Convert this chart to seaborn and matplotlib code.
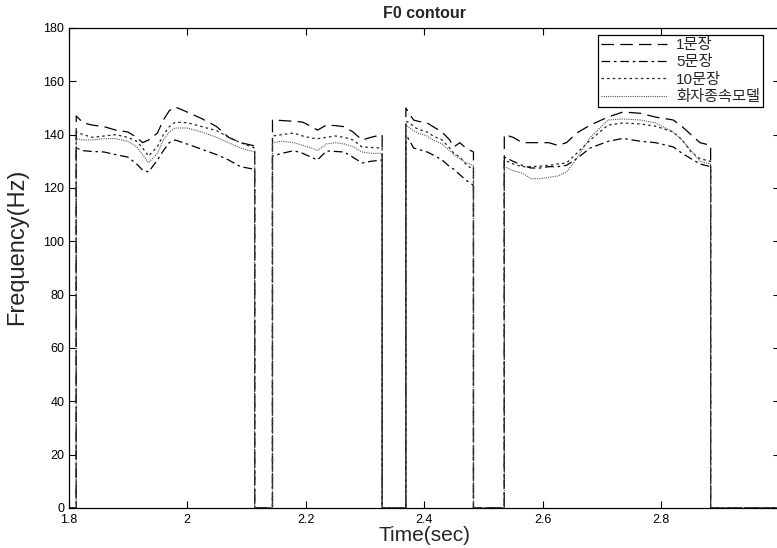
import numpy as np
import pandas as pd
import matplotlib
matplotlib.use("Agg")
import matplotlib.pyplot as plt
import seaborn as sns

# ---------------- data ----------------
seg_times = [
    [1.813, 1.825, 1.84, 1.86, 1.88, 1.90, 1.915, 1.925, 1.935, 1.95, 1.96, 1.97, 1.98, 2.00, 2.025, 2.05, 2.07, 2.09, 2.114],
    [2.144, 2.16, 2.18, 2.195, 2.21, 2.22, 2.235, 2.25, 2.265, 2.28, 2.295, 2.31, 2.329],
    [2.369, 2.376, 2.382, 2.39, 2.405, 2.415, 2.43, 2.443, 2.45, 2.46, 2.47, 2.483],
    [2.535, 2.55, 2.565, 2.58, 2.595, 2.61, 2.625, 2.64, 2.657, 2.68, 2.71, 2.735, 2.765, 2.79, 2.82, 2.835, 2.85, 2.865, 2.883],
]

f0_1sent = [
    [147, 144.4, 143.6, 143, 141.7, 141, 139, 137, 138, 140.6, 145.5, 149, 150.4, 148.5, 146, 143, 139, 137, 135.8],
    [145.5, 145.3, 145, 144.7, 143, 141.7, 143.6, 143.4, 143, 141, 138, 139, 140],
    [150, 147.5, 145.5, 145, 144.4, 143, 141, 138, 135.4, 137, 135, 133.5],
    [140, 139, 137, 137, 137, 137, 136, 137, 140.6, 143.6, 146.6, 148.5, 148, 146.6, 145.5, 143, 140, 137, 136],
]
f0_5sent = [
    [135, 134, 133.7, 133.5, 132.5, 131.6, 129, 126.7, 126, 130.5, 134, 137, 138, 136.5, 134.5, 132.5, 130.5, 128, 127],
    [132, 133, 134, 133, 131.5, 130.5, 133.9, 133.7, 133.5, 131.5, 129.4, 130, 130.5],
    [140, 137.5, 135, 134.5, 133.5, 132.4, 130.5, 128, 127, 125, 123, 121],
    [131.6, 130, 128.5, 127.5, 127.5, 128, 128, 128.5, 131, 135, 137.5, 138.6, 137.5, 137, 135.4, 133, 131, 129, 128],
]
f0_10sent = [
    [141, 140, 139, 139.5, 140, 139, 137.5, 135, 132, 135.5, 140, 143, 144.7, 144.5, 143, 141.5, 139, 137, 135],
    [139.5, 140, 140.6, 139.5, 138.7, 138.5, 139, 139.5, 139, 138, 135.4, 135.2, 135],
    [145, 144.4, 143, 142, 141, 139.5, 138, 135, 133, 131.6, 129, 126.7],
    [130.5, 129, 128, 128, 128.2, 128.5, 129, 129.4, 133, 138, 143.6, 144.4, 144, 143.2, 141, 138, 133.5, 131, 130],
]
f0_spkdep = [
    [138.5, 138, 138, 138.5, 138.5, 137.5, 135.5, 132.5, 129.5, 133, 138, 141, 142.5, 142.5, 141, 139, 137, 135, 133.5],
    [137, 137.5, 137, 136, 135, 134, 136.5, 137, 136.5, 135.5, 133.5, 133, 133],
    [143.5, 142.5, 141.5, 140.5, 139.5, 138, 136.5, 134, 132.5, 131, 129.5, 128.5],
    [128, 126.5, 125.6, 123.5, 123.5, 124, 124.5, 126, 131, 139, 145.5, 145.9, 145.5, 144.4, 141, 138, 134, 130, 129],
]

labels = ["1문장", "5문장", "10문장", "화자종속모델"]
x_ticks = [1.8, 2.0, 2.2, 2.4, 2.6, 2.8, 3.0]
x_tick_labels = ["1.8", "2", "2.2", "2.4", "2.6", "2.8", "3"]
y_ticks = [0, 20, 40, 60, 80, 100, 120, 140, 160, 180]


def build_path(times, values, t_start=1.8, t_end=3.0):
    t, y = [t_start], [0.0]
    for ts, vs in zip(times, values):
        t.append(ts[0]); y.append(0.0)
        t.extend(ts); y.extend(vs)
        t.append(ts[-1]); y.append(0.0)
    t.append(t_end); y.append(0.0)
    return pd.DataFrame({"t": t, "f0": y})


# ---------------- style ----------------
sns.set_style("ticks")
plt.rcParams["font.family"] = ["Liberation Sans", "Noto Sans CJK KR"]
plt.rcParams["axes.unicode_minus"] = False

fig = plt.figure(figsize=(7.77, 5.48), dpi=100)
W, H = 777, 548
ax = fig.add_axes([68.5 / W, 1 - 508 / H, (780 - 68.5) / W, 480 / H])

styles = [
    dict(color="black", lw=0.9, dashes=(10, 5)),
    dict(color="black", lw=0.9, dashes=(7, 3, 2, 3)),
    dict(color="#222222", lw=0.9, dashes=(2, 2.5)),
    dict(color="#555555", lw=0.8, dashes=(1, 1)),
]
series = [f0_1sent, f0_5sent, f0_10sent, f0_spkdep]

for vals, lab, st in zip(series, labels, styles):
    df = build_path(seg_times, vals)
    sns.lineplot(data=df, x="t", y="f0", ax=ax, sort=False, estimator=None,
                 label=lab, color=st["color"], lw=st["lw"], dashes=st["dashes"])

ax.set_xlim(1.8, 3.0)
ax.set_ylim(0, 180)
ax.set_xticks(x_ticks)
ax.set_xticklabels(x_tick_labels)
ax.set_yticks(y_ticks)
ax.tick_params(direction="in", length=5, width=0.8, labelsize=9, colors="black",
               top=True, right=True)
ax.tick_params(axis="x", pad=4)
ax.tick_params(axis="y", pad=3)
for sp in ax.spines.values():
    sp.set_visible(True)
    sp.set_color("black")
    sp.set_linewidth(0.9)

ax.set_title("F0 contour", fontsize=11.5, fontweight="bold", pad=7)
ax.set_xlabel("Time(sec)", fontsize=15, labelpad=0)
ax.set_ylabel("Frequency(Hz)", fontsize=17)
ax.yaxis.set_label_coords(-0.057, 0.545)

handles, labs = ax.get_legend_handles_labels()
leg = ax.legend(handles, labs, loc="upper left",
                bbox_to_anchor=(598 / W, 1 - 35 / H), bbox_transform=fig.transFigure,
                fontsize=11, frameon=True, fancybox=False, framealpha=1,
                edgecolor="black", handlelength=4.3, handletextpad=0.6,
                labelspacing=0.22, borderpad=0.2, borderaxespad=0)
leg.get_frame().set_linewidth(0.9)

fig.savefig("out.png", dpi=100, facecolor="white")
